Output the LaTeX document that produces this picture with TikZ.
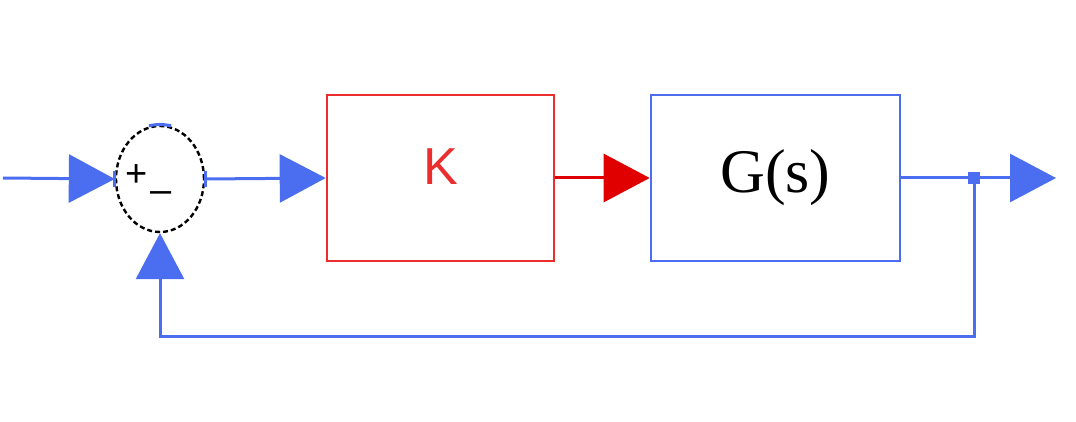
\documentclass[tikz,border=0pt]{standalone}
\usepackage{fontspec}
\setmainfont{Liberation Serif}
\setsansfont{Liberation Sans}
\usetikzlibrary{arrows.meta,shapes.geometric}
\definecolor{lblue}{RGB}{75,110,240}
\definecolor{kred}{RGB}{235,45,45}
\definecolor{ared}{RGB}{225,0,0}
\tikzset{
  wire/.style={line width=3pt,color=lblue},
  tip/.style={-{Triangle[length=46pt,width=48pt]}},
  blockbox/.style={draw,rectangle,line width=2.6pt,inner sep=0pt},
  signtxt/.style={font=\sffamily\fontsize{38}{38}\selectfont,inner sep=0pt}
}
\begin{document}
\begin{tikzpicture}[x=1pt,y=-1pt]
\useasboundingbox (0,0) rectangle (1076,422);
\node[ellipse,draw=black,dash pattern=on 5pt off 3pt,line width=2.4pt,minimum width=88pt,minimum height=106pt,inner sep=0pt] (sum) at (160,179) {};
\node[signtxt] (plus) at (137,176) {+};
\node[signtxt] (minus) at (161,197) {–};
\node[blockbox,draw=kred,minimum width=227pt,minimum height=166pt,text=kred,font=\sffamily\fontsize{52}{52}\selectfont] (K) at (440.5,178) {\raisebox{22pt}{K}};
\node[blockbox,draw=lblue,minimum width=249pt,minimum height=166pt,font=\fontsize{62}{62}\selectfont] (G) at (775.5,178) {G(s)};
\coordinate (in) at (3,178);
\coordinate (j) at (974,178);
\coordinate (out) at (1056,178);
\coordinate (fbc) at (974,336);
% port marks on summing junction
\draw[wire,line width=3pt] (sum.north) ++(-11,1) to[bend left=12] ++(22,0);
\draw[wire,line width=3pt] (sum.west) ++(0,-8) -- ++(0,16);
\draw[wire,line width=3pt] (sum.east) ++(0,-8) -- ++(0,16);
% connectors
\draw[wire,tip] (in) -- (sum.west);
\draw[wire,tip] (sum.east) -- (K.west);
\draw[wire,color=ared,tip] (K.east) -- (G.west);
\draw[wire] (G.east) -- (j);
\draw[wire,tip] (j) -- (out);
\draw[wire,tip] (j) -- (fbc) -| (sum.south);
\node[fill=lblue,minimum size=12pt,inner sep=0pt] (dot) at (j) {};
\end{tikzpicture}
\end{document}
